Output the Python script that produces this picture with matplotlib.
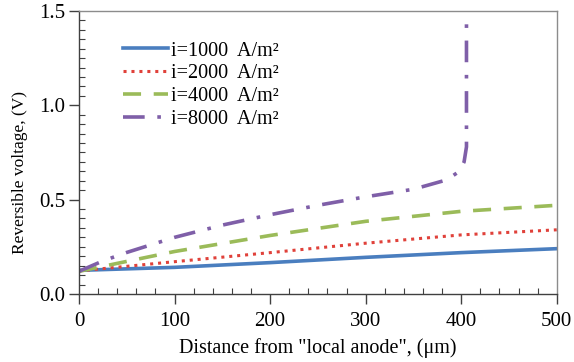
import matplotlib
matplotlib.use('Agg')
import matplotlib.pyplot as plt
from matplotlib.ticker import MultipleLocator

plt.rcParams['font.family'] = ['Liberation Serif', 'DejaVu Serif']

# distance (um) and reversible voltage (V)
x_1000 = [0, 100, 200, 300, 400, 500]
v_1000 = [0.125, 0.141, 0.166, 0.194, 0.219, 0.240]

x_2000 = [0, 100, 200, 300, 400, 500]
v_2000 = [0.122, 0.171, 0.219, 0.269, 0.313, 0.340]

x_4000 = [0, 100, 200, 300, 400, 500]
v_4000 = [0.120, 0.225, 0.310, 0.385, 0.438, 0.470]

x_8000 = [0, 25, 50, 75, 100, 150, 200, 250, 300, 350, 385, 398, 403, 405.5, 405.5]
v_8000 = [0.12, 0.175, 0.22, 0.26, 0.30, 0.365, 0.42, 0.47, 0.515, 0.555,
          0.605, 0.65, 0.70, 0.78, 1.5]

labels = ['i=1000  A/m²', 'i=2000  A/m²', 'i=4000  A/m²', 'i=8000  A/m²']

fig = plt.figure(figsize=(5.74, 3.62), dpi=100)
ax = fig.add_axes([0.1376, 0.188, 0.8324, 0.7816])

ax.plot(x_1000, v_1000, color='#4a7ebf', lw=2.6, label=labels[0])
ax.plot(x_2000, v_2000, color='#e0413a', lw=2.2, ls=(0, (1, 1.6)), label=labels[1])
ax.plot(x_4000, v_4000, color='#9bbb59', lw=2.6, ls=(0, (5, 3.5)), label=labels[2])
ax.plot(x_8000, v_8000, color='#7f5fa8', lw=2.6, ls=(0, (6, 3.5, 1, 3.5)), label=labels[3])

ax.set_xlim(0, 500)
ax.set_ylim(0, 1.5)
ax.xaxis.set_major_locator(MultipleLocator(100))
ax.xaxis.set_minor_locator(MultipleLocator(20))
ax.yaxis.set_major_locator(MultipleLocator(0.5))
ax.yaxis.set_minor_locator(MultipleLocator(0.05))
ax.yaxis.set_major_formatter(plt.FuncFormatter(lambda v, p: '%.1f' % v))

for s in ax.spines.values():
    s.set_color('#8c8c8c')
    s.set_linewidth(1.0)
ax.spines['left'].set_color('#404040')
ax.spines['bottom'].set_color('#404040')

ax.tick_params(which='major', direction='out', length=7, width=1, labelsize=15,
               color='#404040', top=False, right=False)
ax.tick_params(axis='x', which='major', pad=6)
ax.tick_params(axis='y', which='major', pad=3)
ax.tick_params(which='minor', direction='in', length=4, width=0.8,
               color='#404040', top=False, right=False)

ax.set_xlabel('Distance from "local anode", (μm)', fontsize=14.5, labelpad=5)
ax.set_ylabel('Reversible voltage, (V)', fontsize=12.5)
ax.yaxis.set_label_coords(-0.107, 0.428)

ax.legend(loc='upper left', bbox_to_anchor=(0.075, 0.921), frameon=False,
          fontsize=14.5, handlelength=2.25, handletextpad=0.15, labelspacing=0.18,
          borderaxespad=0)

fig.savefig('out.png', dpi=100)
